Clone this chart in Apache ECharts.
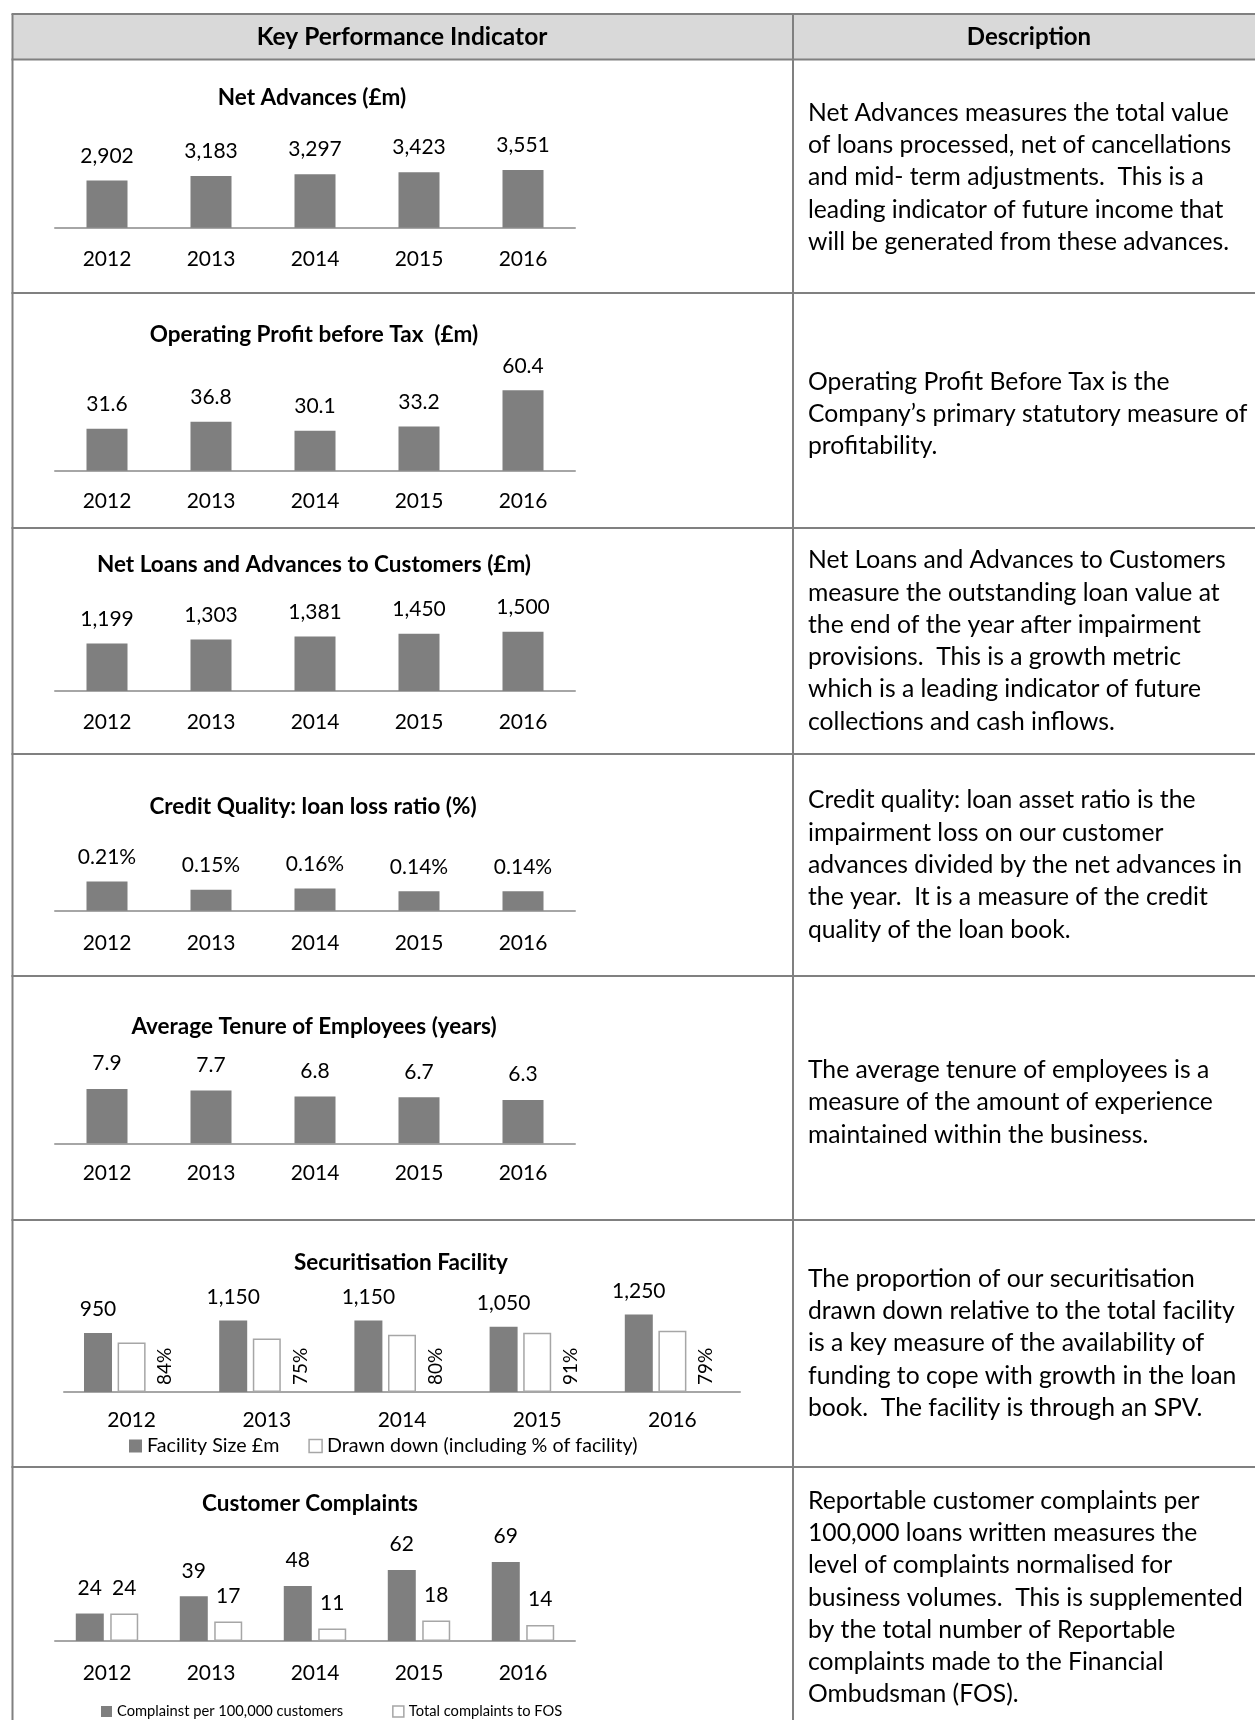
<!DOCTYPE html>
<html>
<head>
<meta charset="utf-8">
<script src="https://cdn.jsdelivr.net/npm/echarts@6/dist/echarts.min.js"></script>
<style>
  html, body { margin: 0; padding: 0; background: #fff; }
  #kpi { width: 1255px; height: 1720px; }
</style>
</head>
<body>
<div id="kpi"></div>
<script>
const years = ["2012", "2013", "2014", "2015", "2016"];

const netAdvances = [2902, 3183, 3297, 3423, 3551];
const operatingProfit = [31.6, 36.8, 30.1, 33.2, 60.4];
const netLoans = [1199, 1303, 1381, 1450, 1500];
const lossRatio = [0.21, 0.15, 0.16, 0.14, 0.14];
const tenure = [7.9, 7.7, 6.8, 6.7, 6.3];
const facilitySize = [950, 1150, 1150, 1050, 1250];
const drawnDown = [798, 863, 920, 956, 988];
const drawnPct = [84, 75, 80, 91, 79];
const complaintsPer100k = [24, 39, 48, 62, 69];
const fosComplaints = [24, 17, 11, 18, 14];

const chartTitles = [
  "Net Advances (£m)",
  "Operating Profit before Tax  (£m)",
  "Net Loans and Advances to Customers (£m)",
  "Credit Quality: loan loss ratio (%)",
  "Average Tenure of Employees (years)",
  "Securitisation Facility",
  "Customer Complaints",
];

const descriptions = [
  ["Net Advances measures the total value", "of loans processed, net of cancellations", "and mid- term adjustments.  This is a", "leading indicator of future income that", "will be generated from these advances."],
  ["Operating Profit Before Tax is the", "Company’s primary statutory measure of", "profitability."],
  ["Net Loans and Advances to Customers", "measure the outstanding loan value at", "the end of the year after impairment", "provisions.  This is a growth metric", "which is a leading indicator of future", "collections and cash inflows."],
  ["Credit quality: loan asset ratio is the", "impairment loss on our customer", "advances divided by the net advances in", "the year.  It is a measure of the credit", "quality of the loan book."],
  ["The average tenure of employees is a", "measure of the amount of experience", "maintained within the business."],
  ["The proportion of our securitisation", "drawn down relative to the total facility", "is a key measure of the availability of", "funding to cope with growth in the loan", "book.  The facility is through an SPV."],
  ["Reportable customer complaints per", "100,000 loans written measures the", "level of complaints normalised for", "business volumes.  This is supplemented", "by the total number of Reportable", "complaints made to the Financial", "Ombudsman (FOS)."],
];

// table geometry
const rowLines = [14, 59.5, 293, 528, 754, 976, 1220, 1467];
const colLeft = 12.5, colDiv = 793, pageW = 1255, pageH = 1720;
// vertical centre of each description block (last one is top-anchored)
const descY = [177.5, 414, 641, 865, 1102.5, 1343.5, 1484.5];

// one panel per mini chart: axis y, plot height, y max
const panels = [
  { left: 55, width: 520, axisY: 227.7, height: 97.4, max: 6000, titleX: 312, titleY: 98, dist: 14, margin: 21 },
  { left: 55, width: 520, axisY: 470.7, height: 133, max: 100, titleX: 314, titleY: 335, dist: 14, margin: 20.5 },
  { left: 55, width: 520, axisY: 691, height: 98.8, max: 2500, titleX: 314, titleY: 565, dist: 14, margin: 21 },
  { left: 55, width: 520, axisY: 910.7, height: 69.5, max: 0.5, titleX: 313, titleY: 807, dist: 14, margin: 22 },
  { left: 55, width: 520, axisY: 1143.3, height: 103, max: 15, titleX: 314, titleY: 1027, dist: 15, margin: 19.5 },
  { left: 64, width: 676, axisY: 1392, height: 124.2, max: 2000, titleX: 401, titleY: 1263, dist: 13, margin: 17.5 },
  { left: 55, width: 520, axisY: 1641, height: 114.5, max: 100, titleX: 310, titleY: 1504, dist: 15, margin: 22 },
];

const FONT = "Lato";
const DARK = "#7f7f7f";
const EDGE = "#a6a6a6";

const fmtThousands = (v) => v.toLocaleString("en-US");

function barLabel(p, formatter) {
  return {
    show: true,
    position: "top",
    distance: p.dist,
    fontFamily: FONT,
    fontSize: 21,
    color: "#000",
    formatter: (d) => formatter(d.value),
  };
}

const grid = panels.map((p) => ({
  left: p.left, width: p.width, top: p.axisY - p.height, height: p.height,
}));

const xAxis = panels.map((p, i) => ({
  gridIndex: i,
  type: "category",
  data: years,
  axisTick: { show: false },
  axisLine: { lineStyle: { color: EDGE, width: 2 } },
  axisLabel: { margin: p.margin, fontFamily: FONT, fontSize: 21, color: "#000" },
  splitLine: { show: false },
}));

const yAxis = panels.map((p, i) => ({
  gridIndex: i, type: "value", min: 0, max: p.max, show: false,
}));

function singleBar(i, name, data, formatter) {
  return {
    name: name,
    type: "bar",
    xAxisIndex: i,
    yAxisIndex: i,
    barWidth: 41,
    itemStyle: { color: DARK },
    label: barLabel(panels[i], formatter),
    data: data,
  };
}

const series = [
  singleBar(0, "Net Advances", netAdvances, fmtThousands),
  singleBar(1, "Operating Profit", operatingProfit, (v) => v.toFixed(1)),
  singleBar(2, "Net Loans", netLoans, fmtThousands),
  singleBar(3, "Loss Ratio", lossRatio, (v) => v.toFixed(2) + "%"),
  singleBar(4, "Tenure", tenure, (v) => v.toFixed(1)),
  {
    name: "Facility Size £m",
    type: "bar", xAxisIndex: 5, yAxisIndex: 5,
    barWidth: 28, barGap: "20%",
    itemStyle: { color: DARK },
    label: barLabel(panels[5], fmtThousands),
    data: facilitySize,
  },
  {
    name: "Drawn down (including % of facility)",
    type: "bar", xAxisIndex: 5, yAxisIndex: 5,
    barWidth: 28, barGap: "20%",
    itemStyle: { color: "#fff", borderColor: EDGE, borderWidth: 1.5 },
    data: drawnDown,
  },
  {
    name: "Drawn %",
    type: "bar", xAxisIndex: 5, yAxisIndex: 5,
    barWidth: 28, barGap: "20%",
    itemStyle: { color: "rgba(0,0,0,0)" },
    label: {
      show: true, position: "insideBottom", distance: 7, rotate: 90,
      align: "left", verticalAlign: "middle", offset: [0, 0],
      fontFamily: FONT, fontSize: 19, color: "#000",
      formatter: (d) => d.value + "%",
    },
    data: drawnPct,
  },
  {
    name: "Complainst per 100,000 customers",
    type: "bar", xAxisIndex: 6, yAxisIndex: 6,
    barWidth: 28, barGap: "23%",
    itemStyle: { color: DARK },
    label: barLabel(panels[6], (v) => String(v)),
    data: complaintsPer100k,
  },
  {
    name: "Total complaints to FOS",
    type: "bar", xAxisIndex: 6, yAxisIndex: 6,
    barWidth: 28, barGap: "23%",
    itemStyle: { color: "#fff", borderColor: EDGE, borderWidth: 1.5 },
    label: barLabel(panels[6], (v) => String(v)),
    data: fosComplaints,
  },
];

const title = panels.map((p, i) => ({
  text: chartTitles[i],
  left: p.titleX, top: p.titleY,
  textAlign: "center", textVerticalAlign: "middle",
  padding: 0,
  textStyle: { fontFamily: FONT, fontSize: 22.5, fontWeight: "bold", color: "#000" },
}));

const legend = [
  {
    left: 129, top: 1436, padding: 0, itemGap: 29,
    itemWidth: 13, itemHeight: 13, icon: "rect",
    textStyle: { fontFamily: FONT, fontSize: 19.7, color: "#000" },
    data: [
      { name: "Facility Size £m", itemStyle: { color: DARK } },
      { name: "Drawn down (including % of facility)", itemStyle: { color: "#fff", borderColor: EDGE, borderWidth: 1.5 } },
    ],
  },
  {
    left: 101, top: 1704, padding: 0, itemGap: 49,
    itemWidth: 11, itemHeight: 11, icon: "rect",
    textStyle: { fontFamily: FONT, fontSize: 14.7, color: "#000" },
    data: [
      { name: "Complainst per 100,000 customers", itemStyle: { color: DARK } },
      { name: "Total complaints to FOS", itemStyle: { color: "#fff", borderColor: EDGE, borderWidth: 1.5 } },
    ],
  },
];

// table: header band, rules and description text
const lineStyle = { stroke: "#808080", lineWidth: 2 };
const graphic = [
  { type: "rect", z: -1, shape: { x: colLeft, y: rowLines[0], width: pageW, height: rowLines[1] - rowLines[0] }, style: { fill: "#d9d9d9" } },
];
rowLines.forEach((y) => {
  graphic.push({ type: "line", shape: { x1: colLeft - 1, y1: y, x2: pageW, y2: y }, style: lineStyle });
});
[colLeft, colDiv].forEach((x) => {
  graphic.push({ type: "line", shape: { x1: x, y1: rowLines[0], x2: x, y2: pageH }, style: lineStyle });
});
graphic.push(
  { type: "text", x: 402, y: 37, style: { text: "Key Performance Indicator", fontFamily: FONT, fontSize: 24.5, fontWeight: "bold", fill: "#000", align: "center", verticalAlign: "middle" } },
  { type: "text", x: 1029, y: 37, style: { text: "Description", fontFamily: FONT, fontSize: 24, fontWeight: "bold", fill: "#000", align: "center", verticalAlign: "middle" } }
);
descriptions.forEach((lines, i) => {
  const last = i === descriptions.length - 1;
  graphic.push({
    type: "text", x: 808, y: descY[i],
    style: {
      text: lines.join("\n"), fontFamily: FONT, fontSize: 24.7, fill: "#000",
      lineHeight: 32.3, align: "left", verticalAlign: last ? "top" : "middle",
    },
  });
});

const chart = echarts.init(document.getElementById("kpi"));
chart.setOption({
  animation: false,
  backgroundColor: "#fff",
  textStyle: { fontFamily: FONT },
  title: title,
  legend: legend,
  grid: grid,
  xAxis: xAxis,
  yAxis: yAxis,
  series: series,
  graphic: graphic,
});
</script>
</body>
</html>
